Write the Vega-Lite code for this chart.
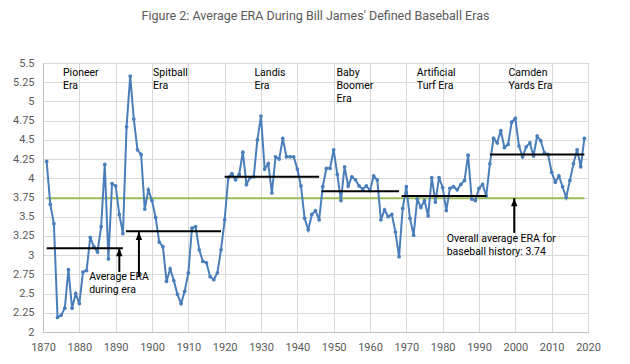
{
  "$schema": "https://vega.github.io/schema/vega-lite/v6.json",
  "width": 545,
  "height": 269,
  "autosize": {"type": "none"},
  "padding": {"left": 43, "top": 63, "right": 42, "bottom": 32},
  "background": "white",
  "title": {
    "text": "Figure 2: Average ERA During Bill James' Defined Baseball Eras",
    "font": "Roboto",
    "fontSize": 12.5,
    "fontWeight": "normal",
    "color": "#595959",
    "anchor": "middle",
    "offset": 35
  },
  "config": {
    "view": {"stroke": "#4F81BD", "strokeWidth": 1},
    "axis": {
      "labelFont": "Roboto",
      "labelFontSize": 11,
      "labelColor": "#595959",
      "gridColor": "#D9D9D9",
      "gridWidth": 1,
      "ticks": false,
      "domainColor": "#BFBFBF",
      "labelOverlap": false,
      "labelFlush": false,
      "tickCount": 100,
      "title": null
    }
  },
  "datasets": {
    "era": [
      {"year": 1871, "era": 4.22}, {"year": 1872, "era": 3.66}, {"year": 1873, "era": 3.41}, {"year": 1874, "era": 2.19},
      {"year": 1875, "era": 2.22}, {"year": 1876, "era": 2.31}, {"year": 1877, "era": 2.81}, {"year": 1878, "era": 2.31},
      {"year": 1879, "era": 2.50}, {"year": 1880, "era": 2.37}, {"year": 1881, "era": 2.78}, {"year": 1882, "era": 2.80},
      {"year": 1883, "era": 3.23}, {"year": 1884, "era": 3.11}, {"year": 1885, "era": 3.04}, {"year": 1886, "era": 3.37},
      {"year": 1887, "era": 4.18}, {"year": 1888, "era": 2.95}, {"year": 1889, "era": 3.93}, {"year": 1890, "era": 3.90},
      {"year": 1891, "era": 3.53}, {"year": 1892, "era": 3.28}, {"year": 1893, "era": 4.67}, {"year": 1894, "era": 5.33},
      {"year": 1895, "era": 4.77}, {"year": 1896, "era": 4.37}, {"year": 1897, "era": 4.31}, {"year": 1898, "era": 3.60},
      {"year": 1899, "era": 3.85}, {"year": 1900, "era": 3.71}, {"year": 1901, "era": 3.49}, {"year": 1902, "era": 3.17},
      {"year": 1903, "era": 3.11}, {"year": 1904, "era": 2.66}, {"year": 1905, "era": 2.82}, {"year": 1906, "era": 2.67},
      {"year": 1907, "era": 2.49}, {"year": 1908, "era": 2.37}, {"year": 1909, "era": 2.53}, {"year": 1910, "era": 2.77},
      {"year": 1911, "era": 3.35}, {"year": 1912, "era": 3.37}, {"year": 1913, "era": 3.07}, {"year": 1914, "era": 2.92},
      {"year": 1915, "era": 2.90}, {"year": 1916, "era": 2.72}, {"year": 1917, "era": 2.68}, {"year": 1918, "era": 2.77},
      {"year": 1919, "era": 3.07}, {"year": 1920, "era": 3.46}, {"year": 1921, "era": 4.01}, {"year": 1922, "era": 4.06},
      {"year": 1923, "era": 3.98}, {"year": 1924, "era": 4.05}, {"year": 1925, "era": 4.34}, {"year": 1926, "era": 3.92},
      {"year": 1927, "era": 4.01}, {"year": 1928, "era": 4.02}, {"year": 1929, "era": 4.50}, {"year": 1930, "era": 4.81},
      {"year": 1931, "era": 4.12}, {"year": 1932, "era": 4.19}, {"year": 1933, "era": 3.81}, {"year": 1934, "era": 4.28},
      {"year": 1935, "era": 4.25}, {"year": 1936, "era": 4.52}, {"year": 1937, "era": 4.28}, {"year": 1938, "era": 4.28},
      {"year": 1939, "era": 4.28}, {"year": 1940, "era": 4.12}, {"year": 1941, "era": 3.90}, {"year": 1942, "era": 3.48},
      {"year": 1943, "era": 3.33}, {"year": 1944, "era": 3.53}, {"year": 1945, "era": 3.58}, {"year": 1946, "era": 3.46},
      {"year": 1947, "era": 3.89}, {"year": 1948, "era": 4.13}, {"year": 1949, "era": 4.13}, {"year": 1950, "era": 4.37},
      {"year": 1951, "era": 4.05}, {"year": 1952, "era": 3.71}, {"year": 1953, "era": 4.15}, {"year": 1954, "era": 3.90},
      {"year": 1955, "era": 4.02}, {"year": 1956, "era": 3.98}, {"year": 1957, "era": 3.90}, {"year": 1958, "era": 3.86},
      {"year": 1959, "era": 3.90}, {"year": 1960, "era": 3.84}, {"year": 1961, "era": 4.03}, {"year": 1962, "era": 3.98},
      {"year": 1963, "era": 3.46}, {"year": 1964, "era": 3.59}, {"year": 1965, "era": 3.50}, {"year": 1966, "era": 3.53},
      {"year": 1967, "era": 3.30}, {"year": 1968, "era": 2.98}, {"year": 1969, "era": 3.61}, {"year": 1970, "era": 3.89},
      {"year": 1971, "era": 3.48}, {"year": 1972, "era": 3.26}, {"year": 1973, "era": 3.73}, {"year": 1974, "era": 3.62},
      {"year": 1975, "era": 3.71}, {"year": 1976, "era": 3.51}, {"year": 1977, "era": 4.01}, {"year": 1978, "era": 3.69},
      {"year": 1979, "era": 4.01}, {"year": 1980, "era": 3.88}, {"year": 1981, "era": 3.58}, {"year": 1982, "era": 3.87},
      {"year": 1983, "era": 3.89}, {"year": 1984, "era": 3.85}, {"year": 1985, "era": 3.92}, {"year": 1986, "era": 3.97},
      {"year": 1987, "era": 4.30}, {"year": 1988, "era": 3.73}, {"year": 1989, "era": 3.71}, {"year": 1990, "era": 3.87},
      {"year": 1991, "era": 3.92}, {"year": 1992, "era": 3.77}, {"year": 1993, "era": 4.19}, {"year": 1994, "era": 4.52},
      {"year": 1995, "era": 4.46}, {"year": 1996, "era": 4.62}, {"year": 1997, "era": 4.40}, {"year": 1998, "era": 4.44},
      {"year": 1999, "era": 4.73}, {"year": 2000, "era": 4.78}, {"year": 2001, "era": 4.42}, {"year": 2002, "era": 4.28},
      {"year": 2003, "era": 4.41}, {"year": 2004, "era": 4.46}, {"year": 2005, "era": 4.29}, {"year": 2006, "era": 4.55},
      {"year": 2007, "era": 4.49}, {"year": 2008, "era": 4.33}, {"year": 2009, "era": 4.31}, {"year": 2010, "era": 4.08},
      {"year": 2011, "era": 3.95}, {"year": 2012, "era": 4.03}, {"year": 2013, "era": 3.89}, {"year": 2014, "era": 3.75},
      {"year": 2015, "era": 3.97}, {"year": 2016, "era": 4.19}, {"year": 2017, "era": 4.37}, {"year": 2018, "era": 4.15},
      {"year": 2019, "era": 4.52}
    ],
    "eras": [
      {"name": "Pioneer", "start": 1871, "end": 1892, "avg": 3.09},
      {"name": "Spitball", "start": 1892.8, "end": 1919, "avg": 3.31},
      {"name": "Landis", "start": 1920, "end": 1946, "avg": 4.02},
      {"name": "Baby Boomer", "start": 1946.7, "end": 1968, "avg": 3.83},
      {"name": "Artificial Turf", "start": 1968.7, "end": 1992, "avg": 3.77},
      {"name": "Camden Yards", "start": 1993, "end": 2019, "avg": 4.31}
    ],
    "overall": [{"start": 1871, "end": 2019, "avg": 3.74}],
    "arrows": [
      {"x": 1891, "tip": 3.09, "base": 2.78},
      {"x": 1896.4, "tip": 3.30, "base": 2.72},
      {"x": 1999.7, "tip": 3.74, "base": 3.29}
    ],
    "labels": [
      {"x": 1875.5, "y": 5.44, "label": "Pioneer\nEra"},
      {"x": 1900.3, "y": 5.44, "label": "Spitball\nEra"},
      {"x": 1928.2, "y": 5.44, "label": "Landis\nEra"},
      {"x": 1950.8, "y": 5.44, "label": "Baby\nBoomer\nEra"},
      {"x": 1972.9, "y": 5.44, "label": "Artificial\nTurf Era"},
      {"x": 1998.1, "y": 5.44, "label": "Camden\nYards Era"},
      {"x": 1882.7, "y": 2.78, "label": "Average ERA\nduring era"},
      {"x": 1981.1, "y": 3.27, "label": "Overall average ERA for\nbaseball history: 3.74"}
    ]
  },
  "layer": [
    {
      "data": {"name": "overall"},
      "mark": {"type": "rule", "color": "#9BBB59", "strokeWidth": 2},
      "encoding": {
        "x": {"field": "start", "type": "quantitative", "scale": {"domain": [1870, 2020], "nice": false, "zero": false},
          "axis": {"values": [1870, 1880, 1890, 1900, 1910, 1920, 1930, 1940, 1950, 1960, 1970, 1980, 1990, 2000, 2010, 2020], "format": "d", "labelPadding": 9, "grid": true, "labelOverlap": false, "labelFlush": false, "tickCount": 100}},
        "x2": {"field": "end"},
        "y": {"field": "avg", "type": "quantitative", "scale": {"domain": [2, 5.5], "nice": false, "zero": false},
          "axis": {"values": [2, 2.25, 2.5, 2.75, 3, 3.25, 3.5, 3.75, 4, 4.25, 4.5, 4.75, 5, 5.25, 5.5], "labelExpr": "datum.value + ''", "labelPadding": 9, "grid": true, "labelOverlap": false, "labelFlush": false, "tickCount": 100}}
      }
    },
    {
      "data": {"name": "era"},
      "mark": {"type": "line", "color": "#4A7EBB", "strokeWidth": 2, "point": {"filled": true, "size": 14, "color": "#4A7EBB"}},
      "encoding": {
        "x": {"field": "year", "type": "quantitative"},
        "y": {"field": "era", "type": "quantitative"}
      }
    },
    {
      "data": {"name": "eras"},
      "mark": {"type": "rule", "color": "black", "strokeWidth": 2},
      "encoding": {
        "x": {"field": "start", "type": "quantitative"},
        "x2": {"field": "end"},
        "y": {"field": "avg", "type": "quantitative"}
      }
    },
    {
      "data": {"name": "arrows"},
      "mark": {"type": "rule", "color": "black", "strokeWidth": 2},
      "encoding": {
        "x": {"field": "x", "type": "quantitative"},
        "y": {"field": "base", "type": "quantitative"},
        "y2": {"field": "tip"}
      }
    },
    {
      "data": {"name": "arrows"},
      "mark": {"type": "point", "shape": "M0,0L-0.8,2L0.8,2Z", "filled": true, "color": "black", "size": 64, "opacity": 1},
      "encoding": {
        "x": {"field": "x", "type": "quantitative"},
        "y": {"field": "tip", "type": "quantitative"}
      }
    },
    {
      "data": {"name": "labels"},
      "mark": {"type": "text", "align": "left", "baseline": "top", "lineBreak": "\n", "font": "Roboto", "fontSize": 10.5, "lineHeight": 13, "color": "black"},
      "encoding": {
        "x": {"field": "x", "type": "quantitative"},
        "y": {"field": "y", "type": "quantitative"},
        "text": {"field": "label"}
      }
    }
  ]
}
